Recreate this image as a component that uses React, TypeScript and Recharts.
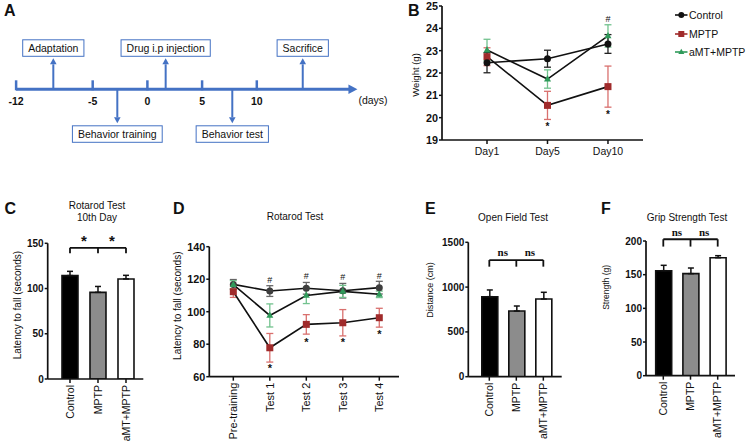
import React from 'react';
import {
  ComposedChart, Line, Bar, Scatter, XAxis, YAxis, ErrorBar,
  ReferenceLine, ReferenceDot, Cell, Legend,
} from 'recharts';

const FONT = '"Liberation Sans", Arial, Helvetica, sans-serif';
const SERIF = '"Liberation Serif", "Times New Roman", serif';
const BLUE = '#4472C4';
const INK = '#111111';

// ---------- Panel A: experiment timeline ----------
const timelineTicks = [-12, -5, 0, 5, 10];
const timelineEnd = 19.2;
const timelineUnit = '(days)';
const timelineEvents = ['Adaptation', 'Behavior training', 'Drug i.p injection', 'Behavior test', 'Sacrifice'];
const timelineEventDays = [-8.6, -2.75, 1.67, 7.76, 14.2];
const timelineEventSides = ['up', 'down', 'up', 'down', 'up'];

// ---------- groups ----------
const groups = ['Control', 'MPTP', 'aMT+MPTP'];
const groupMarkerColors = ['#111111', '#A02B2B', '#2F9A5A'];
const groupErrColors = ['#222222', '#D9706E', '#72C28E'];
const groupBarFills = ['#000000', '#8C8C8C', '#FFFFFF'];

// ---------- Panel B: weight ----------
const weightDays = ['Day1', 'Day5', 'Day10'];
const weightControl = [22.46, 22.64, 23.3];
const weightControlSem = [0.45, 0.38, 0.42];
const weightMPTP = [22.73, 20.55, 21.39];
const weightMPTPSem = [0.4, 0.63, 0.92];
const weightAMT = [23.03, 21.73, 23.66];
const weightAMTSem = [0.48, 0.41, 0.5];
const weightTicks = [19, 20, 21, 22, 23, 24, 25];
const weightStarY = [null, 19.72, 20.24];
const weightHashY = [null, null, 24.45];

// ---------- Panel C: rotarod 10th day ----------
const rotarodDay10 = [114.3, 95.8, 110.6];
const rotarodDay10Sem = [4.7, 6.5, 4.0];
const rotarodDay10Ticks = [0, 50, 100, 150];
const rotarodDay10Bracket = [145, 139];
const rotarodDay10Sig = ['*', '*'];
const rotarodDay10SigY = 157;

// ---------- Panel D: rotarod sessions ----------
const rotarodSessions = ['Pre-training', 'Test 1', 'Test 2', 'Test 3', 'Test 4'];
const rotControl = [116.8, 112.7, 114.4, 112.9, 114.8];
const rotControlSem = [3.0, 3.3, 3.6, 4.5, 3.9];
const rotMPTP = [112.3, 77.8, 92.2, 93.2, 96.3];
const rotMPTPSem = [3.5, 8.8, 6.0, 8.1, 5.8];
const rotAMT = [116.6, 97.7, 110.0, 112.5, 110.7];
const rotAMTSem = [2.5, 7.1, 5.0, 3.7, 2.0];
const rotTicks = [60, 80, 100, 120, 140];
const rotHashY = [null, 119.8, 122, 121.5, 122.2];
const rotStarY = [null, 66.8, 83, 83, 87.9];

// ---------- Panel E: open field ----------
const openField = [893, 733, 867];
const openFieldSem = [75, 56, 75];
const openFieldTicks = [0, 500, 1000, 1500];
const openFieldBracket = [1302, 1228];
const openFieldSig = ['ns', 'ns'];
const openFieldSigY = 1377;

// ---------- Panel F: grip strength ----------
const grip = [155.9, 151.5, 175.2];
const gripSem = [8.0, 8.4, 3.0];
const gripTicks = [0, 50, 100, 150, 200];
const gripBracket = [202.6, 191.7];
const gripSig = ['ns', 'ns'];
const gripSigY = 212;

// ---------- helpers ----------
let measureCtx: any = null;
const measure = (t: string, font: string) => {
  if (!measureCtx) measureCtx = document.createElement('canvas').getContext('2d');
  measureCtx.font = font;
  return measureCtx.measureText(t).width;
};

const axisLineStyle = { stroke: INK, strokeWidth: 1.7 };
const tickLineStyle = { stroke: INK, strokeWidth: 1.5 };
const yTickStyle = { fontSize: 10, fontWeight: 700, fill: INK, fontFamily: FONT };
const yTickStyleD = { fontSize: 10.8, fontWeight: 700, fill: INK, fontFamily: FONT };

const yTitle = (text: string, size: number, dx: number, dy: number) => (props: any) => {
  const vb = props.viewBox || {};
  const x = (vb.x || 0) + dx;
  const y = (vb.y || 0) + (vb.height || 0) / 2 + dy;
  return (
    <text x={x} y={y} transform={`rotate(-90 ${x} ${y})`} textAnchor="middle" dy="0.36em"
      fontSize={size} fill={INK} fontFamily={FONT}>{text}</text>
  );
};

const rotatedTick = (labels: string[], size: number) => (props: any) => {
  const { x, y, payload } = props;
  return (
    <text x={x} y={y} transform={`rotate(-90 ${x} ${y})`} textAnchor="end" dy="0.36em"
      fontSize={size} fill={INK} fontFamily={FONT}>{labels[payload.value]}</text>
  );
};

const markText = (text: string, size: number, bold: boolean, family: string, k: number) => (p: any) => (
  <text x={p.cx} y={p.cy + k * size} textAnchor="middle" fontSize={size}
    fontWeight={bold ? 700 : 400} fill={INK} fontFamily={family}>{text}</text>
);

const dotShape = (kind: string, fill: string, s: number) => (p: any) => {
  if (p.cx == null || p.cy == null) return <g key={p.key} />;
  if (kind === 'circle') return <circle key={p.key} cx={p.cx} cy={p.cy} r={s / 2} fill={fill} />;
  if (kind === 'square') return <rect key={p.key} x={p.cx - s / 2} y={p.cy - s / 2} width={s} height={s} fill={fill} />;
  const h = s * 0.9;
  return <polygon key={p.key} points={`${p.cx},${p.cy - h * 0.62} ${p.cx - s / 2},${p.cy + h * 0.38} ${p.cx + s / 2},${p.cy + h * 0.38}`} fill={fill} />;
};
const markerKinds = ['circle', 'square', 'triangle'];

// ---------- Panel A shapes ----------
const AxisArrow = (props: any) => {
  const { x1, y1, x2 } = props;
  const base = x2 - 9;
  return (
    <g>
      <line x1={x1} y1={y1} x2={base + 1} y2={y1} stroke={BLUE} strokeWidth={3} />
      <polygon points={`${x2},${y1} ${base},${y1 - 4.8} ${base},${y1 + 4.8}`} fill={BLUE} />
      <text x={x2 + 1} y={y1 + 11} dy="0.36em" fontSize={10.5} fill={INK} fontFamily={FONT}>{timelineUnit}</text>
    </g>
  );
};

const TickShape = (p: any) => (
  <g>
    <line x1={p.cx} y1={p.cy + 1} x2={p.cx} y2={p.cy - 9} stroke={BLUE} strokeWidth={2.5} />
    <text x={p.cx} y={p.cy + 11.7} dy="0.36em" textAnchor="middle" fontSize={10.5} fontWeight={700}
      fill={INK} fontFamily={FONT}>{p.payload.day}</text>
  </g>
);

const EventShape = (p: any) => {
  const { cx, cy, payload } = p;
  const up = payload.side === 'up';
  const w = measure(payload.label, `10.5px ${FONT}`) + 11;
  const h = 16.5;
  const tipY = up ? cy - 31 : cy + 34;
  const headBase = up ? tipY + 6 : tipY - 6;
  const boxY = up ? tipY - 2 - h : tipY + 2.5;
  return (
    <g>
      <line x1={cx} y1={cy} x2={cx} y2={headBase} stroke={BLUE} strokeWidth={2} />
      <polygon points={`${cx},${tipY} ${cx - 3.3},${headBase} ${cx + 3.3},${headBase}`} fill={BLUE} />
      <rect x={cx - w / 2} y={boxY} width={w} height={h} fill="#fff" stroke={BLUE} strokeWidth={1} />
      <text x={cx} y={boxY + h / 2} dy="0.36em" textAnchor="middle" fontSize={10.5} fill={INK}
        fontFamily={FONT}>{payload.label}</text>
    </g>
  );
};

function TimelinePanel() {
  const tickRows = timelineTicks.map((d) => ({ day: d, y: 0 }));
  const eventRows = timelineEvents.map((label, i) => ({
    day: timelineEventDays[i], y: 0, label, side: timelineEventSides[i],
  }));
  return (
    <div style={{ position: 'absolute', left: 0, top: 0 }}>
      <ComposedChart width={400} height={170} margin={{ top: 0, right: 0, bottom: 0, left: 0 }}>
        <XAxis type="number" dataKey="day" domain={[-13.473, 23.09]} hide allowDataOverflow />
        <YAxis type="number" dataKey="y" domain={[-80.7, 89.3]} hide allowDataOverflow />
        <ReferenceLine segment={[{ x: -12, y: 0 }, { x: timelineEnd, y: 0 }]} shape={AxisArrow} ifOverflow="visible" />
        <Scatter data={tickRows} shape={TickShape} isAnimationActive={false} />
        <Scatter data={eventRows} shape={EventShape} isAnimationActive={false} />
      </ComposedChart>
    </div>
  );
}

// ---------- Panel B ----------
const legendContent = () => (
  <div style={{ fontFamily: FONT, fontSize: 10.5, color: INK }}>
    {groups.map((g, i) => (
      <div key={g} style={{ height: 18.6, display: 'flex', alignItems: 'center' }}>
        <svg width={13} height={10} style={{ marginRight: 1 }}>
          <line x1={0} y1={5} x2={12.5} y2={5} stroke={groupMarkerColors[i]} strokeWidth={1.6} />
          {dotShape(markerKinds[i], groupMarkerColors[i], 6)({ cx: 6.3, cy: 5, key: 'm' })}
        </svg>
        <span>{g}</span>
      </div>
    ))}
  </div>
);

function WeightPanel() {
  const rows = weightDays.map((d, i) => ({
    i,
    s0: weightControl[i], e0: weightControlSem[i],
    s1: weightMPTP[i], e1: weightMPTPSem[i],
    s2: weightAMT[i], e2: weightAMTSem[i],
  }));
  const order = [1, 2, 0];
  return (
    <div style={{ position: 'absolute', left: 400, top: 0 }}>
      <ComposedChart width={352} height={170} data={rows} margin={{ top: 6, right: 109, bottom: 0, left: 0 }}>
        <XAxis type="number" dataKey="i" domain={[-0.744, 2.579]} ticks={[0, 1, 2]} interval={0} allowDataOverflow
          tickFormatter={(v: number) => weightDays[v]} height={30} tickSize={4} tickMargin={4}
          axisLine={axisLineStyle} tickLine={tickLineStyle}
          tick={{ fontSize: 10.5, fill: INK, fontFamily: FONT }} />
        <YAxis type="number" domain={[19, 25]} ticks={weightTicks} interval={0} width={42} allowDataOverflow
          tickSize={3} tickMargin={1} axisLine={axisLineStyle} tickLine={tickLineStyle} tick={yTickStyleD}
          label={yTitle('Weight (g)', 9.5, 16, 2)} />
        {order.map((k) => (
          <Line key={k} dataKey={`s${k}`} stroke={INK} strokeWidth={1.6} isAnimationActive={false}
            dot={dotShape(markerKinds[k], groupMarkerColors[k], 7)} activeDot={false}>
            <ErrorBar dataKey={`e${k}`} width={3.5} stroke={groupErrColors[k]} strokeWidth={1.3} />
          </Line>
        ))}
        {weightStarY.map((y, i) => y == null ? null : (
          <ReferenceDot key={`s${i}`} x={i} y={y} r={0} ifOverflow="visible" shape={markText('*', 10, true, FONT, 0.57)} />
        ))}
        {weightHashY.map((y, i) => y == null ? null : (
          <ReferenceDot key={`h${i}`} x={i} y={y} r={0} ifOverflow="visible" shape={markText('#', 9, false, FONT, 0.36)} />
        ))}
        <Legend verticalAlign="middle" content={legendContent}
          wrapperStyle={{ position: 'absolute', left: 275, top: 5.7, width: 80, height: 60 }} />
      </ComposedChart>
    </div>
  );
}

// ---------- Panel D ----------
function RotarodPanel() {
  const rows = rotarodSessions.map((s, i) => ({
    i,
    s0: rotControl[i], e0: rotControlSem[i],
    s1: rotMPTP[i], e1: rotMPTPSem[i],
    s2: rotAMT[i], e2: rotAMTSem[i],
  }));
  const colors = ['#3E3E3E', groupMarkerColors[1], groupMarkerColors[2]];
  const errs = ['#666666', groupErrColors[1], groupErrColors[2]];
  return (
    <div style={{ position: 'absolute', left: 170, top: 200 }}>
      <ComposedChart width={240} height={246} data={rows} margin={{ top: 46.7, right: 11, bottom: 0, left: 0 }}>
        <XAxis type="number" dataKey="i" domain={[-0.658, 4.54]} ticks={[0, 1, 2, 3, 4]} interval={0} allowDataOverflow
          height={69.3} tickSize={4} tickMargin={2} axisLine={axisLineStyle} tickLine={tickLineStyle}
          tick={rotatedTick(rotarodSessions, 11)} />
        <YAxis type="number" domain={[60, 140]} ticks={rotTicks} interval={0} width={39.3} allowDataOverflow
          tickSize={3} tickMargin={1} axisLine={axisLineStyle} tickLine={tickLineStyle} tick={yTickStyleD}
          label={yTitle('Latency to fall (seconds)', 10, 7, -6)} />
        {[0, 1, 2].map((k) => (
          <Line key={k} dataKey={`s${k}`} stroke={INK} strokeWidth={1.6} isAnimationActive={false}
            dot={dotShape(markerKinds[k], colors[k], 7)} activeDot={false}>
            <ErrorBar dataKey={`e${k}`} width={3.5} stroke={errs[k]} strokeWidth={1.3} />
          </Line>
        ))}
        {rotHashY.map((y, i) => y == null ? null : (
          <ReferenceDot key={`h${i}`} x={i} y={y} r={0} ifOverflow="visible" shape={markText('#', 9, false, FONT, 0.36)} />
        ))}
        {rotStarY.map((y, i) => y == null ? null : (
          <ReferenceDot key={`s${i}`} x={i} y={y} r={0} ifOverflow="visible" shape={markText('*', 11, true, FONT, 0.57)} />
        ))}
      </ComposedChart>
    </div>
  );
}

// ---------- bar panels (C, E, F) ----------
type BarPanelProps = {
  left: number; top: number; width: number; height: number;
  marginTop: number; marginRight: number; yWidth: number; xHeight: number;
  xDomain: [number, number]; values: number[]; sem: number[];
  yDomain: [number, number]; yTicks: number[];
  title: string; titleSize: number; titleDx: number; titleDy: number;
  bracket: number[]; sig: string[]; sigY: number; sigFont: string; sigSize: number; sigBold: boolean; sigK: number;
};

function BarPanel(p: BarPanelProps) {
  const rows = groups.map((g, i) => ({ i, v: p.values[i], err: [0, p.sem[i]] }));
  const [top, drop] = p.bracket;
  return (
    <div style={{ position: 'absolute', left: p.left, top: p.top }}>
      <ComposedChart width={p.width} height={p.height} data={rows}
        margin={{ top: p.marginTop, right: p.marginRight, bottom: 0, left: 0 }}>
        <XAxis type="number" dataKey="i" domain={p.xDomain} ticks={[0, 1, 2]} interval={0} allowDataOverflow
          height={p.xHeight} tickSize={4} tickMargin={2} axisLine={axisLineStyle} tickLine={tickLineStyle}
          tick={rotatedTick(groups, 10.5)} />
        <YAxis type="number" domain={p.yDomain} ticks={p.yTicks} interval={0} width={p.yWidth} allowDataOverflow
          tickSize={3} tickMargin={1} axisLine={axisLineStyle} tickLine={tickLineStyle} tick={yTickStyle}
          label={yTitle(p.title, p.titleSize, p.titleDx, p.titleDy)} />
        <Bar dataKey="v" barSize={16} stroke={INK} strokeWidth={1.6} isAnimationActive={false}>
          {rows.map((r) => <Cell key={r.i} fill={groupBarFills[r.i]} />)}
          <ErrorBar dataKey="err" width={3} stroke={INK} strokeWidth={1.5} />
        </Bar>
        <ReferenceLine segment={[{ x: 0, y: top }, { x: 2, y: top }]} stroke={INK} strokeWidth={1.8} ifOverflow="visible" />
        {groups.map((g, i) => (
          <ReferenceLine key={g} segment={[{ x: i, y: top }, { x: i, y: drop }]} stroke={INK} strokeWidth={1.8} ifOverflow="visible" />
        ))}
        {p.sig.map((s, i) => (
          <ReferenceDot key={i} x={i + 0.5} y={p.sigY} r={0} ifOverflow="visible"
            shape={markText(s, p.sigSize, p.sigBold, p.sigFont, p.sigK)} />
        ))}
      </ComposedChart>
    </div>
  );
}

const Txt = ({ x, y, size, bold, children, center }: any) => (
  <div style={{
    position: 'absolute', left: center ? x - 100 : x, top: y - size / 2, width: center ? 200 : undefined,
    textAlign: center ? 'center' : 'left', fontSize: size, lineHeight: `${size}px`, fontWeight: bold ? 700 : 400,
    fontFamily: FONT, color: INK, whiteSpace: 'nowrap',
  }}>{children}</div>
);

export default function App() {
  return (
    <div style={{ position: 'absolute', left: 0, top: 0, width: 752, height: 446, background: '#fff', overflow: 'hidden' }}>
      <TimelinePanel />
      <WeightPanel />
      <RotarodPanel />
      <BarPanel left={0} top={200} width={150} height={246} marginTop={43.3} marginRight={6.7} yWidth={47.7} xHeight={67}
        xDomain={[-0.796, 2.618]} values={rotarodDay10} sem={rotarodDay10Sem} yDomain={[0, 150]} yTicks={rotarodDay10Ticks}
        title="Latency to fall (seconds)" titleSize={10} titleDx={17} titleDy={-6}
        bracket={rotarodDay10Bracket} sig={rotarodDay10Sig} sigY={rotarodDay10SigY} sigFont={FONT} sigSize={15} sigBold sigK={0.57} />
      <BarPanel left={400} top={200} width={170} height={246} marginTop={42.3} marginRight={8.3} yWidth={68.3} xHeight={69.3}
        xDomain={[-0.778, 2.68]} values={openField} sem={openFieldSem} yDomain={[0, 1500]} yTicks={openFieldTicks}
        title="Distance (cm)" titleSize={9} titleDx={30} titleDy={-19.5}
        bracket={openFieldBracket} sig={openFieldSig} sigY={openFieldSigY} sigFont={SERIF} sigSize={11} sigBold sigK={0.25} />
      <BarPanel left={570} top={200} width={182} height={246} marginTop={41} marginRight={17} yWidth={76} xHeight={70.3}
        xDomain={[-0.636, 2.636]} values={grip} sem={gripSem} yDomain={[0, 200]} yTicks={gripTicks}
        title="Strength (g)" titleSize={8.5} titleDx={36} titleDy={-21}
        bracket={gripBracket} sig={gripSig} sigY={gripSigY} sigFont={SERIF} sigSize={11} sigBold sigK={0.25} />

      <Txt x={4} y={10.8} size={16} bold>A</Txt>
      <Txt x={408} y={10.5} size={16} bold>B</Txt>
      <Txt x={4.5} y={208.5} size={16} bold>C</Txt>
      <Txt x={173} y={208.5} size={16} bold>D</Txt>
      <Txt x={425} y={208.5} size={16} bold>E</Txt>
      <Txt x={601} y={208.5} size={16} bold>F</Txt>

      <Txt x={97} y={206} size={10} center>Rotarod Test</Txt>
      <Txt x={97} y={217.5} size={10} center>10th Day</Txt>
      <Txt x={295} y={217} size={10} center>Rotarod Test</Txt>
      <Txt x={513} y={218} size={10} center>Open Field Test</Txt>
      <Txt x={687} y={218} size={10} center>Grip Strength Test</Txt>
    </div>
  );
}
